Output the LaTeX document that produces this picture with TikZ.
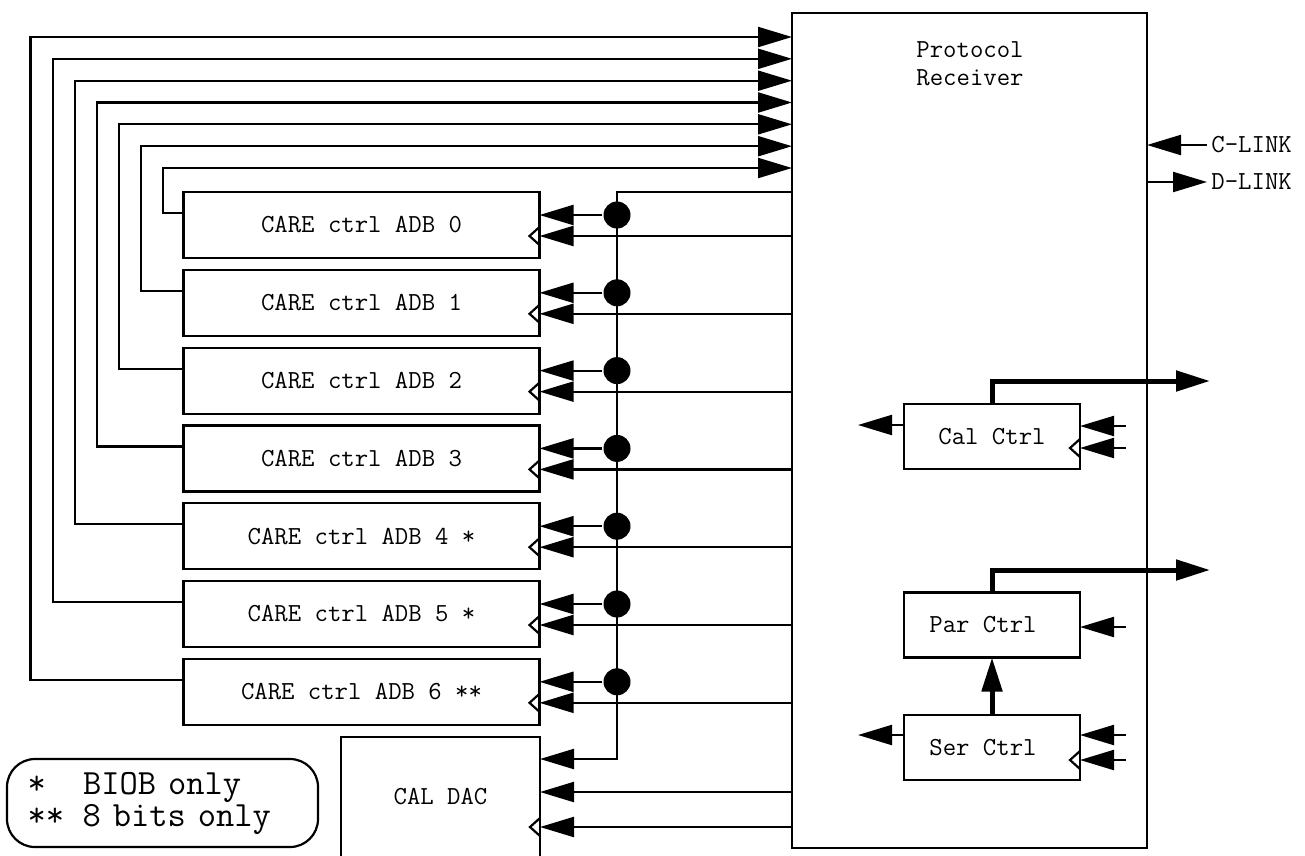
\documentclass[tikz,border=0pt]{standalone}
\usepackage{fontspec}
\usetikzlibrary{positioning, arrows.meta}

\newcommand{\clkmark}[1]{\draw (#1) ++(0,-9) -- ++(-10,9) -- ++(10,9);}

\begin{document}
\begin{tikzpicture}[x=1pt, y=-1pt,
            line width=2.2pt,
            node distance=11.8pt,
            font=\ttfamily\fontsize{26pt}{28pt}\selectfont,
            box/.style={draw, minimum width=356pt, minimum height=66pt, inner sep=0pt, outer sep=0pt},
            ctrl/.style={draw, minimum width=176pt, minimum height=65pt, inner sep=0pt, outer sep=0pt},
            arr/.style={-{Triangle[length=34pt, width=20pt]}},
            wide/.style={arr, line width=5pt},
            dot/.style={circle, fill, inner sep=0pt, minimum width=26pt, minimum height=27pt}
        ]
            \useasboundingbox (0,0) rectangle (1305,855);

            % Receiver block
            \node[draw, minimum width=355pt, minimum height=835pt, outer sep=0pt] (rx) at (969.5,430.5) {};
            \node[align=center] (rxname) at (970,64) {Protocol\\Receiver};

            % ADB controllers
            \node[box] (adb0) at (361.5,225) {CARE ctrl ADB 0};
            \node[box, below=of adb0] (adb1) {CARE ctrl ADB 1};
            \node[box, below=of adb1] (adb2) {CARE ctrl ADB 2};
            \node[box, below=of adb2] (adb3) {CARE ctrl ADB 3};
            \node[box, below=of adb3] (adb4) {CARE ctrl ADB 4 *};
            \node[box, below=of adb4] (adb5) {CARE ctrl ADB 5 *};
            \node[box, below=of adb5] (adb6) {CARE ctrl ADB 6 **};
            \node[draw, minimum width=199pt, minimum height=120pt, outer sep=0pt] (dac) at (440.5,797) {CAL DAC};

            % Control blocks inside the receiver
            \node[ctrl] (cal) at (992,436.5) {Cal Ctrl};
            \node[ctrl] (ser) at (992,747.5) {Ser Ctrl\hspace*{18pt}};
            \node[ctrl, above=57.5pt of ser] (par) {Par Ctrl\hspace*{18pt}};

            % Links
            \node[anchor=west] (clink) at (1207,145) {C-LINK};
            \node[anchor=west] (dlink) at (1207,182) {D-LINK};
            \draw[arr] (clink.west) -- (clink.west -| rx.east);
            \draw[arr] (dlink.west -| rx.east) -- (dlink.west);

            % Legend
            \node[draw, rounded corners=28pt, minimum width=311pt, minimum height=88pt, align=left, text width=270pt,
                font=\ttfamily\fontsize{35.5pt}{32pt}\selectfont] (note) at (162.5,803)
                {*\hspace*{1.05em}BIOB only\\{}**\hspace*{0.525em}8 bits only};

            % Status lines back to the receiver
            \coordinate (up0) at (163,168);
            \coordinate (up1) at (141,146.2);
            \coordinate (up2) at (118.9,124.3);
            \coordinate (up3) at (96.8,102.5);
            \coordinate (up4) at (74.7,80.7);
            \coordinate (up5) at (52.6,58.8);
            \coordinate (up6) at (30.5,37);
            \draw[arr] ([yshift=12pt]adb0.west) -| (up0) -- (up0 -| rx.west);
            \draw[arr] ([yshift=12pt]adb1.west) -| (up1) -- (up1 -| rx.west);
            \draw[arr] ([yshift=12pt]adb2.west) -| (up2) -- (up2 -| rx.west);
            \draw[arr] ([yshift=12pt]adb3.west) -| (up3) -- (up3 -| rx.west);
            \draw[arr] ([yshift=12pt]adb4.west) -| (up4) -- (up4 -| rx.west);
            \draw[arr] ([yshift=12pt]adb5.west) -| (up5) -- (up5 -| rx.west);
            \draw[arr] ([yshift=12pt]adb6.west) -| (up6) -- (up6 -| rx.west);

            % Shared bus down to the DAC
            \coordinate (dacin) at (617,759);
            \draw[arr] (adb0.north -| rx.west) -| (dacin) -- (dacin -| dac.east);
            \node[dot] (dot0) at (617,215) {};
            \node[dot] (dot1) at (617,292.8) {};
            \node[dot] (dot2) at (617,370.6) {};
            \node[dot] (dot3) at (617,448.4) {};
            \node[dot] (dot4) at (617,526.2) {};
            \node[dot] (dot5) at (617,604) {};
            \node[dot] (dot6) at (617,681.8) {};
            \draw[arr] (dot0) -- (dot0 -| adb0.east);
            \draw[arr] (dot1) -- (dot1 -| adb1.east);
            \draw[arr] (dot2) -- (dot2 -| adb2.east);
            \draw[arr] (dot3) -- (dot3 -| adb3.east);
            \draw[arr] (dot4) -- (dot4 -| adb4.east);
            \draw[arr] (dot5) -- (dot5 -| adb5.east);
            \draw[arr] (dot6) -- (dot6 -| adb6.east);

            % Clock inputs
            \coordinate (clk0) at ([yshift=-11pt]adb0.east);
            \coordinate (clk1) at ([yshift=-11pt]adb1.east);
            \coordinate (clk2) at ([yshift=-11pt]adb2.east);
            \coordinate (clk3) at ([yshift=-11pt]adb3.east);
            \coordinate (clk4) at ([yshift=-11pt]adb4.east);
            \coordinate (clk5) at ([yshift=-11pt]adb5.east);
            \coordinate (clk6) at ([yshift=-11pt]adb6.east);
            \coordinate (dacdat) at ([yshift=5pt]dac.east);
            \coordinate (dacclk) at ([yshift=-30pt]dac.east);
            \draw[arr] (clk0 -| rx.west) -- (clk0); \clkmark{clk0}
            \draw[arr] (clk1 -| rx.west) -- (clk1); \clkmark{clk1}
            \draw[arr] (clk2 -| rx.west) -- (clk2); \clkmark{clk2}
            \draw[arr] (clk3 -| rx.west) -- (clk3); \clkmark{clk3}
            \draw[arr] (clk4 -| rx.west) -- (clk4); \clkmark{clk4}
            \draw[arr] (clk5 -| rx.west) -- (clk5); \clkmark{clk5}
            \draw[arr] (clk6 -| rx.west) -- (clk6); \clkmark{clk6}
            \draw[arr] (dacdat -| rx.west) -- (dacdat);
            \draw[arr] (dacclk -| rx.west) -- (dacclk); \clkmark{dacclk}

            % Control block wiring
            \coordinate (calout) at (1210,381);
            \coordinate (parout) at (1210,570);
            \draw[wide] (cal.north) |- (calout);
            \draw[wide] (par.north) |- (parout);
            \draw[wide] (ser.north) -- (par.south);
            \draw[arr] ([yshift=11.5pt]cal.west) -- ++(-46,0);
            \draw[arr] ([yshift=12.5pt]ser.west) -- ++(-46,0);
            \draw[arr] ([xshift=46pt, yshift=10.5pt]cal.east) -- ([yshift=10.5pt]cal.east);
            \draw[arr] ([xshift=46pt, yshift=-11.5pt]cal.east) -- ([yshift=-11.5pt]cal.east);
            \clkmark{[yshift=-11.5pt]cal.east}
            \draw[arr] ([xshift=46pt, yshift=-2pt]par.east) -- ([yshift=-2pt]par.east);
            \draw[arr] ([xshift=46pt, yshift=12.5pt]ser.east) -- ([yshift=12.5pt]ser.east);
            \draw[arr] ([xshift=46pt, yshift=-12.5pt]ser.east) -- ([yshift=-12.5pt]ser.east);
            \clkmark{[yshift=-12.5pt]ser.east}
        \end{tikzpicture}
\end{document}
